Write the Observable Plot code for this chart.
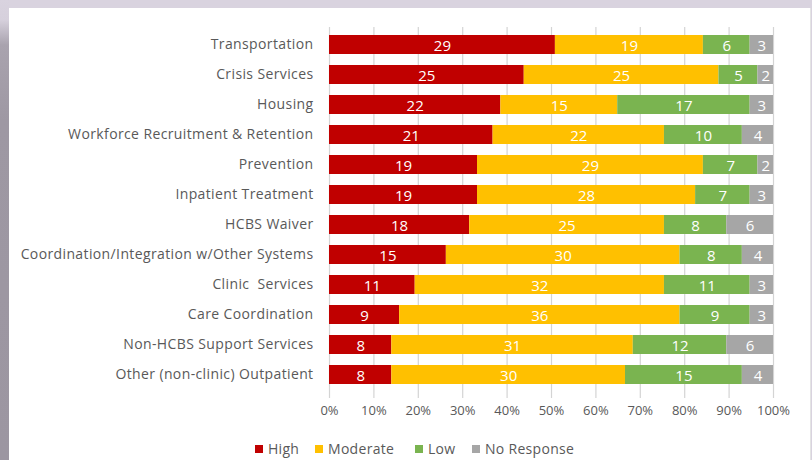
<!DOCTYPE html>
<html>
<head>
<meta charset="utf-8">
<script src="https://cdn.jsdelivr.net/npm/d3@7"></script>
<script src="https://cdn.jsdelivr.net/npm/@observablehq/plot@0.6"></script>
<style>
  html, body { margin: 0; padding: 0; }
  body { width: 812px; height: 460px; overflow: hidden; background: #d9d3df; font-family: "Open Sans", sans-serif; }
  #wrap { position: relative; width: 812px; height: 460px; }
  #strip { position: absolute; left: 0; top: 0; width: 9px; height: 460px;
           background: linear-gradient(to bottom, #d9d3df 0px, #d6d0dc 20px, #a9a3ae 45px, #9e98a3 120px, #9c96a1 460px); }
  #panel { position: absolute; left: 9px; top: 8px; width: 801px; height: 452px; background: #fff; border-right: 1px solid #e4e4e4; }
  #chart { position: absolute; left: 0; top: 0; z-index: 2; }
  #chart g[aria-label="y-axis tick label"] text { letter-spacing: 0.38px; }
  #legend { position: absolute; top: 0; left: 0; width: 812px; height: 460px; font-size: 14px; color: #595959; letter-spacing: 0.3px; z-index: 3; }
  #legend .item { position: absolute; top: 439px; display: flex; align-items: center; white-space: nowrap; }
  #legend .sw { width: 8px; height: 8px; margin-right: 5px; }
</style>
</head>
<body>
<div id="wrap">
  <div id="strip"></div>
  <div id="panel"></div>
  <div id="chart"></div>
  <div id="legend"></div>
</div>
<script>
const categories = [
  "Transportation",
  "Crisis Services",
  "Housing",
  "Workforce Recruitment & Retention",
  "Prevention",
  "Inpatient Treatment",
  "HCBS Waiver",
  "Coordination/Integration w/Other Systems",
  "Clinic  Services",
  "Care Coordination",
  "Non-HCBS Support Services",
  "Other (non-clinic) Outpatient"
];
const high       = [29, 25, 22, 21, 19, 19, 18, 15, 11,  9,  8,  8];
const moderate   = [19, 25, 15, 22, 29, 28, 25, 30, 32, 36, 31, 30];
const low        = [ 6,  5, 17, 10,  7,  7,  8,  8, 11,  9, 12, 15];
const noResponse = [ 3,  2,  3,  4,  2,  3,  6,  4,  3,  3,  6,  4];
const levels = ["High", "Moderate", "Low", "No Response"];
const colors = ["#c00000", "#ffc000", "#7ab450", "#a6a6a6"];
const xTicks = [0, 0.1, 0.2, 0.3, 0.4, 0.5, 0.6, 0.7, 0.8, 0.9, 1.0];

const series = [high, moderate, low, noResponse];
const rows = [];
categories.forEach((c, i) => {
  levels.forEach((lv, j) => rows.push({category: c, level: lv, value: series[j][i]}));
});

const chart = Plot.plot({
  width: 812,
  height: 430,
  marginLeft: 329,
  marginRight: 39,
  marginTop: 27,
  marginBottom: 38,
  style: {background: "transparent", fontFamily: "Open Sans, sans-serif", overflow: "visible"},
  x: {domain: [0, 1], ticks: xTicks, tickFormat: d3.format(".0%")},
  y: {domain: categories, paddingInner: 0.38, paddingOuter: 0.19, label: null},
  color: {domain: levels, range: colors},
  marks: [
    Plot.ruleX(xTicks, {x: d => d, stroke: "#d4d4d4", strokeWidth: 1.2}),
    Plot.barX(rows, Plot.stackX({x: "value", y: "category", z: "level", fill: "level", offset: "normalize", order: null})),
    Plot.textX(rows, Plot.stackX({x: "value", y: "category", z: "level", offset: "normalize", order: null,
      text: "value", fill: "white", fontSize: 15, dy: 1})),
    Plot.axisX({ticks: xTicks, tickFormat: d3.format(".0%"), tickSize: 6, stroke: "#d4d4d4", strokeWidth: 1.2, tickPadding: 7, fontSize: 13, fill: "#595959", label: null}),
    Plot.axisY({tickSize: 0, tickPadding: 16, fontSize: 14, fill: "#595959", label: null})
  ]
});
document.getElementById("chart").appendChild(chart);

const legendX = [255, 315, 415, 472];
const legend = document.getElementById("legend");
levels.forEach((lv, j) => {
  const it = document.createElement("div");
  it.className = "item";
  it.style.left = legendX[j] + "px";
  const sw = document.createElement("span");
  sw.className = "sw";
  sw.style.background = colors[j];
  const tx = document.createElement("span");
  tx.textContent = lv;
  it.appendChild(sw); it.appendChild(tx);
  legend.appendChild(it);
});
</script>
</body>
</html>
